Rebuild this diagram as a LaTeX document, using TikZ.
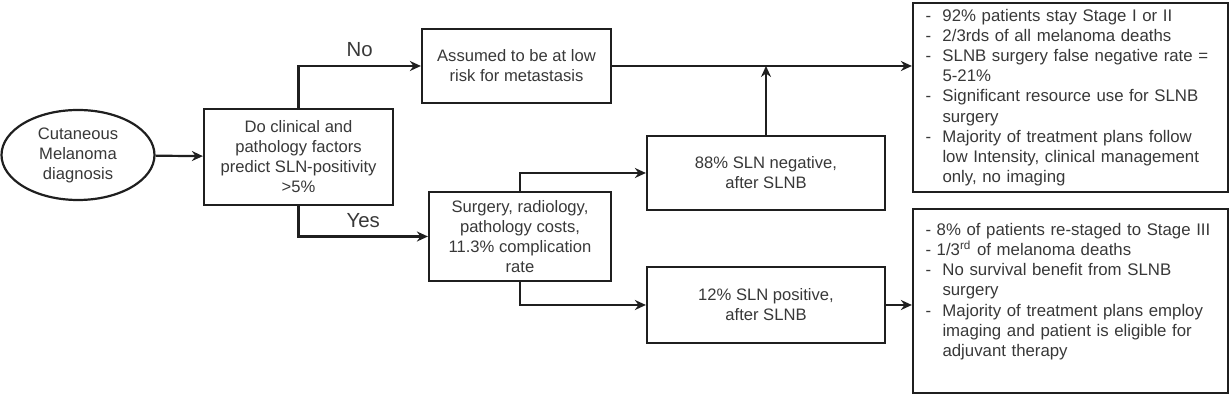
\documentclass[tikz,border=0pt]{standalone}
\usepackage{fontspec}
\setmainfont{Liberation Sans}
\usetikzlibrary{arrows.meta,shapes.geometric}
\newcommand{\dsh}{\makebox[8.5pt][l]{-}}
\newcommand{\ind}{\hspace*{8.5pt}}
\begin{document}
\begin{tikzpicture}[x=0.5pt,y=-0.5pt,
  box/.style={draw=black!88, line width=1.1pt, rectangle, align=center, inner sep=1pt,
    font=\fontsize{8.3}{10}\selectfont, text=black!78},
  listbox/.style={box, align=left, text width=145pt, inner xsep=0pt,
    minimum width=157.5pt, font=\fontsize{8.4}{10.1}\selectfont},
  arr/.style={-{Stealth[length=5.5pt,width=5pt]}, line width=1.1pt, draw=black!88},
  lab/.style={font=\fontsize{10.2}{12}\selectfont, text=black!78, inner sep=0pt}]
\useasboundingbox (0,0) rectangle (1232,394);

\node[box, ellipse, minimum width=76.5pt, minimum height=45pt, inner sep=0pt] (start) at (78,155)
  {Cutaneous\\Melanoma\\diagnosis};
\node[box, minimum width=94.5pt, minimum height=48pt] (q) at (298.5,157)
  {Do clinical and\\pathology factors\\predict SLN-positivity\\>5\%};
\node[box, minimum width=94.5pt, minimum height=37pt] (a) at (516.5,66)
  {Assumed to be at low\\risk for metastasis};
\node[box, minimum width=91pt, minimum height=44.5pt] (s) at (520,236.5)
  {Surgery, radiology,\\pathology costs,\\11.3\% complication\\rate};
\node[box, minimum width=119pt, minimum height=37pt] (n) at (766,173)
  {88\% SLN negative,\\after SLNB};
\node[box, minimum width=119pt, minimum height=38pt] (p) at (766,305)
  {12\% SLN positive,\\after SLNB};
\node[listbox, minimum height=94.5pt] (tr) at (1070.5,97.5)
  {\dsh 92\% patients stay Stage I or II\\
   \dsh 2/3rds of all melanoma deaths\\
   \dsh SLNB surgery false negative rate =\\
   \ind 5-21\%\\
   \dsh Significant resource use for SLNB\\
   \ind surgery\\
   \dsh Majority of treatment plans follow\\
   \ind low Intensity, clinical management\\
   \ind only, no imaging};
\node[listbox, minimum height=92pt] (br) at (1070.5,301)
  {- 8\% of patients re-staged to Stage III\\
   - 1/3\textsuperscript{rd} of melanoma deaths\\
   \dsh No survival benefit from SLNB\\
   \ind surgery\\
   \dsh Majority of treatment plans employ\\
   \ind imaging and patient is eligible for\\
   \ind adjuvant therapy\\[1pt]\mbox{}};

\coordinate (j) at (n.north |- a.east);
\draw[arr] (start) -- (q);
\draw[arr] (q.north) |- (a.west) node[lab, pos=0.75, above=4pt] (no) {No};
\draw[arr] (q.south) |- (s.west) node[lab, pos=0.75, above=4pt] (yes) {Yes};
\draw[arr] (a.east) -- (a.east -| tr.west);
\draw[arr] (n.north) -- (j);
\draw[arr] (s.north) |- (n.west);
\draw[arr] (s.south) |- (p.west);
\draw[arr] (p.east) -- (p.east -| br.west);
\end{tikzpicture}
\end{document}
